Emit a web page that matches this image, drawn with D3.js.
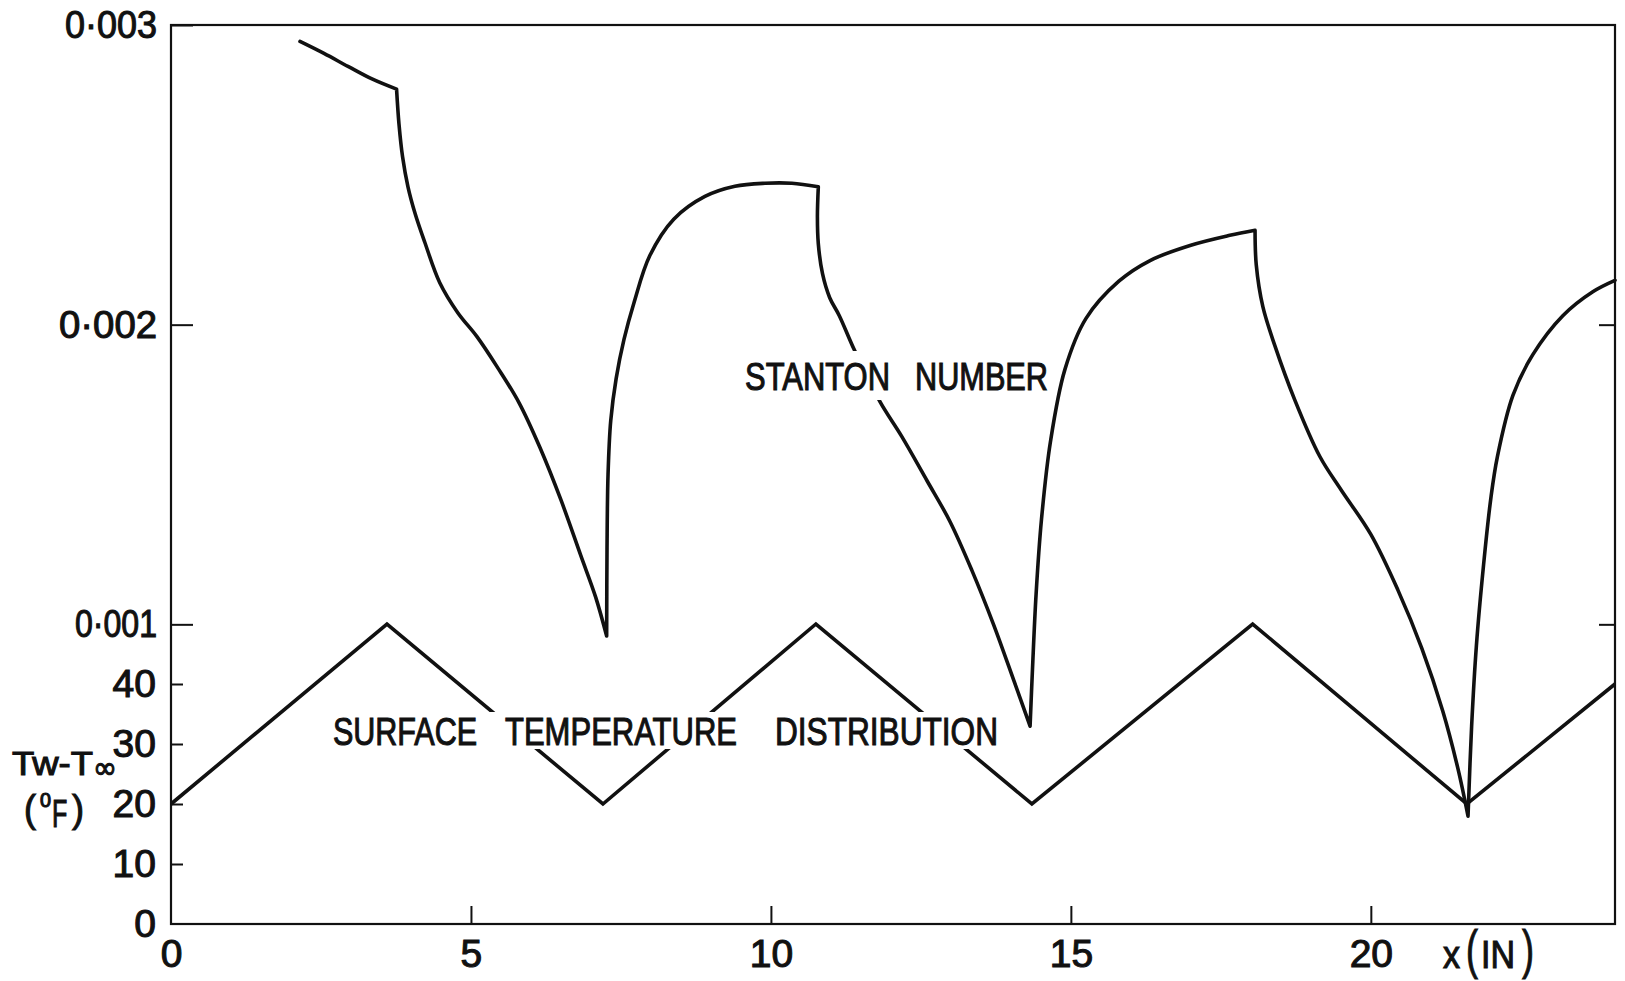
<!DOCTYPE html>
<html>
<head>
<meta charset="utf-8">
<script src="https://cdn.jsdelivr.net/npm/d3@7"></script>
<style>
  html, body { margin: 0; padding: 0; background: #fff; }
  svg { display: block; }
  text { font-family: "Liberation Sans", Arial, sans-serif; fill: #111; stroke: #111; stroke-width: 1.1px; }
</style>
</head>
<body>
<svg id="chart" width="1625" height="981"></svg>
<script>
// ---- data ---------------------------------------------------------------
// Surface temperature Tw - T∞ (°F) along the plate, x in inches
const tempX = [0, 3.6, 7.2, 10.75, 14.35, 18.03, 21.6, 24.07];
const tempT = [20, 50, 20, 50, 20, 50, 20, 40];

// Stanton number (in units of 10^-3) along the plate, one branch per
// heating / cooling stretch of the wall temperature
const stantonSeg1 = [[2.15, 2.945], [2.55, 2.905], [2.95, 2.862], [3.35, 2.820], [3.76, 2.786]];
const stantonSeg2 = [[3.76, 2.786], [3.80, 2.670], [3.86, 2.560], [3.95, 2.460], [4.07, 2.370],
                     [4.23, 2.275], [4.48, 2.140], [4.78, 2.040], [5.10, 1.960], [5.45, 1.855],
                     [5.80, 1.740], [6.15, 1.590], [6.50, 1.415], [6.83, 1.230], [7.08, 1.090],
                     [7.262, 0.961]];
const stantonSeg3 = [[7.262, 0.961], [7.268, 1.250], [7.285, 1.500], [7.33, 1.680], [7.42, 1.820],
                     [7.55, 1.950], [7.72, 2.075], [7.98, 2.230], [8.38, 2.352], [8.90, 2.428],
                     [9.40, 2.462], [9.90, 2.472], [10.35, 2.472], [10.79, 2.460]];
const stantonSeg4 = [[10.79, 2.460], [10.775, 2.360], [10.79, 2.270], [10.86, 2.170], [10.98, 2.090],
                     [11.14, 2.030], [11.39, 1.916], [11.82, 1.742], [12.18, 1.627], [12.60, 1.480],
                     [12.98, 1.345], [13.35, 1.180], [13.71, 1.000], [14.05, 0.812], [14.32, 0.660]];
const stantonSeg5 = [[14.32, 0.660], [14.36, 0.850], [14.42, 1.100], [14.51, 1.350], [14.66, 1.610],
                     [14.90, 1.850], [15.25, 2.020], [15.80, 2.145], [16.32, 2.214], [17.00, 2.265],
                     [17.65, 2.298], [18.07, 2.315]];
const stantonSeg6 = [[18.07, 2.315], [18.09, 2.200], [18.20, 2.060], [18.40, 1.930], [18.73, 1.750],
                     [19.15, 1.560], [19.50, 1.450], [20.00, 1.300], [20.45, 1.115], [20.85, 0.920],
                     [21.20, 0.710], [21.45, 0.520], [21.62, 0.360]];
const stantonSeg7 = [[21.62, 0.360], [21.68, 0.660], [21.76, 0.930], [21.88, 1.200], [22.00, 1.420],
                     [22.11, 1.560], [22.37, 1.765], [22.70, 1.900], [23.20, 2.030], [23.70, 2.110],
                     [24.07, 2.148]];
const stantonSegments = [stantonSeg1, stantonSeg2, stantonSeg3, stantonSeg4,
                         stantonSeg5, stantonSeg6, stantonSeg7];
const stantonUnit = 1e-3;

// tick values and labels
const xTicks = [0, 5, 10, 15, 20];
const stTicks = [0.001, 0.002, 0.003];
const stTickLabels = ["0·001", "0·002", "0·003"];
const tTicks = [0, 10, 20, 30, 40];

(function draw() {
  // ---- layout -----------------------------------------------------------
  const svg = d3.select("#chart");
  const plotL = 171, plotR = 1615, plotT = 25, plotB = 924;

  const x = d3.scaleLinear().domain([0, 24.07]).range([plotL, plotR]);
  const yS = d3.scaleLinear().domain([0, 0.003]).range([plotB, plotT]);
  const yT = d3.scaleLinear().domain([0, 50]).range([plotB, 624]);

  const INK = "#111";
  // hand-lettered widths of the Stanton-number tick labels (px)
  const stLabelWidth = { "0·001": 82, "0·002": 98, "0·003": 92 };

  // ---- curves -----------------------------------------------------------
  const tempLine = d3.line().x(d => x(d[0])).y(d => yT(d[1]));
  svg.append("path")
    .attr("d", tempLine(d3.zip(tempX, tempT)))
    .attr("fill", "none").attr("stroke", INK).attr("stroke-width", 3.6)
    .attr("stroke-linejoin", "miter").attr("stroke-linecap", "butt");

  const stLine = d3.line()
    .x(d => x(d[0]))
    .y(d => yS(d[1] * stantonUnit))
    .curve(d3.curveCatmullRom.alpha(0.5));
  const stPath = stantonSegments
    .map((seg, i) => { const p = stLine(seg); return i === 0 ? p : p.replace(/^M/, "L"); })
    .join("");
  svg.append("path")
    .attr("d", stPath)
    .attr("fill", "none").attr("stroke", INK).attr("stroke-width", 3.6)
    .attr("stroke-linejoin", "round").attr("stroke-linecap", "round");

  // white breaks in the curves where the curve labels sit
  svg.append("rect").attr("x", 740).attr("y", 351).attr("width", 312).attr("height", 49).attr("fill", "#fff");
  svg.append("rect").attr("x", 330).attr("y", 712).attr("width", 672).attr("height", 37).attr("fill", "#fff");

  // ---- frame and axes ---------------------------------------------------
  svg.append("rect")
    .attr("x", plotL).attr("y", plotT).attr("width", plotR - plotL).attr("height", plotB - plotT)
    .attr("fill", "none").attr("stroke", INK).attr("stroke-width", 2.2);

  function styleAxis(g) {
    g.select(".domain").remove();
    g.selectAll(".tick line").attr("stroke", INK).attr("stroke-width", 2);
    g.selectAll(".tick text").attr("fill", INK)
      .style("font-family", '"Liberation Sans", Arial, sans-serif')
      .style("font-size", "39px");
  }

  // Stanton number axis (left)
  svg.append("g").attr("transform", `translate(${plotL},0)`)
    .call(d3.axisLeft(yS).tickValues(stTicks).tickSize(-22).tickPadding(14)
      .tickFormat((d, i) => stTickLabels[i]))
    .call(styleAxis)
    .call(g => g.selectAll(".tick text")
      .attr("textLength", (d, i) => stLabelWidth[stTickLabels[i]])
      .attr("lengthAdjust", "spacingAndGlyphs"));

  // temperature axis (left, lower part)
  svg.append("g").attr("transform", `translate(${plotL},0)`)
    .call(d3.axisLeft(yT).tickValues(tTicks).tickSize(-12).tickPadding(15)
      .tickFormat(d3.format("d")))
    .call(styleAxis)
    .call(g => g.selectAll(".tick").filter(d => d === 0).select("line").remove());

  // right-hand ticks
  svg.append("g").attr("transform", `translate(${plotR},0)`)
    .call(d3.axisRight(yS).tickValues([0.001, 0.002]).tickSize(-16).tickFormat(""))
    .call(styleAxis);

  // x axis
  svg.append("g").attr("transform", `translate(0,${plotB})`)
    .call(d3.axisBottom(x).tickValues(xTicks).tickSize(-18).tickPadding(15)
      .tickFormat(d3.format("d")))
    .call(styleAxis)
    .call(g => g.selectAll(".tick").filter(d => d === 0).select("line").remove());

  // ---- text -------------------------------------------------------------
  function word(str, x0, y0, len, size, family) {
    const t = svg.append("text")
      .attr("x", x0).attr("y", y0)
      .attr("textLength", len).attr("lengthAdjust", "spacingAndGlyphs")
      .style("font-size", size + "px")
      .text(str);
    if (family) t.style("font-family", family);
  }

  // curve labels
  word("STANTON", 745, 390, 145, 39);
  word("NUMBER", 915, 390, 133, 39);
  word("SURFACE", 333, 745, 144, 39);
  word("TEMPERATURE", 505, 745, 232, 39);
  word("DISTRIBUTION", 775, 745, 223, 39);

  // temperature axis title, two lines: Tw-T∞ / (°F)
  const tTitle = svg.append("text");
  const piece = (str, x0, y0, len, size, family) => {
    const s = tTitle.append("tspan")
      .attr("x", x0).attr("y", y0)
      .attr("textLength", len).attr("lengthAdjust", "spacingAndGlyphs")
      .style("font-size", size + "px")
      .text(str);
    if (family) s.style("font-family", family);
  };
  piece("Tw-T", 12, 775, 81, 34);
  piece("∞", 93, 778, 24, 30, '"DejaVu Sans", sans-serif');
  piece("(", 24, 822, 12, 38);
  piece("0", 40, 807, 11, 20);
  piece(")", 72, 822, 12, 38);
  // the narrow hand-lettered F of °F
  svg.append("text")
    .attr("transform", "translate(52,827) scale(0.66,1)")
    .style("font-size", "38px")
    .text("F");

  // x axis title
  word("x", 1443, 968, 17, 39);
  word("(", 1466, 968, 12, 54);
  word("IN", 1481, 968, 34, 39);
  word(")", 1522, 968, 12, 54);
})();
</script>
</body>
</html>
